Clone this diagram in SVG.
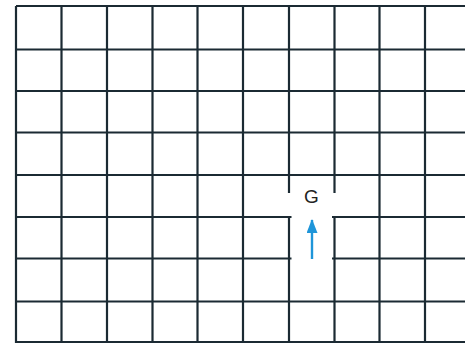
<svg xmlns="http://www.w3.org/2000/svg" width="465" height="343" viewBox="0 0 465 343">
<defs>
<style>
.g{stroke:#1b2a33;stroke-width:2.2;fill:none;stroke-linecap:butt}
.lbl{font-family:"Liberation Sans",Arial,sans-serif;font-size:19px;fill:#222;text-anchor:middle}
.arr{stroke:#1e95d9;stroke-width:2.4;fill:none}
</style>
<marker id="ah" viewBox="0 0 14 11" refX="13" refY="5.5" markerWidth="14" markerHeight="11" orient="auto" markerUnits="userSpaceOnUse">
<path d="M0,0 L14,5.5 L0,11 z" fill="#1e95d9"/>
</marker>
</defs>
<rect width="465" height="343" fill="#fff"/>
<g id="grid" class="g">
<path d="M16,6V343 M61.5,6V343 M107,6V343 M152.5,6V343 M197.5,6V343 M243,6V343 M379.5,6V343 M425,6V343"/>
<path d="M289,6V193 M289,217V343 M334.5,6V193 M334.5,217V343"/>
<path d="M16,6H465 M16,49.5H465 M16,91H465 M16,132.5H465 M16,175H465 M16,301.5H465 M16,342H465"/>
<path d="M16,217H291.5 M332,217H465 M16,258.5H291.5 M332,258.5H465"/>
</g>
<g id="nodeG">
<text class="lbl" x="311.5" y="203">G</text>
</g>
<g id="connectors">
<path class="arr" d="M312,259V220" marker-end="url(#ah)"/>
</g>
</svg>
